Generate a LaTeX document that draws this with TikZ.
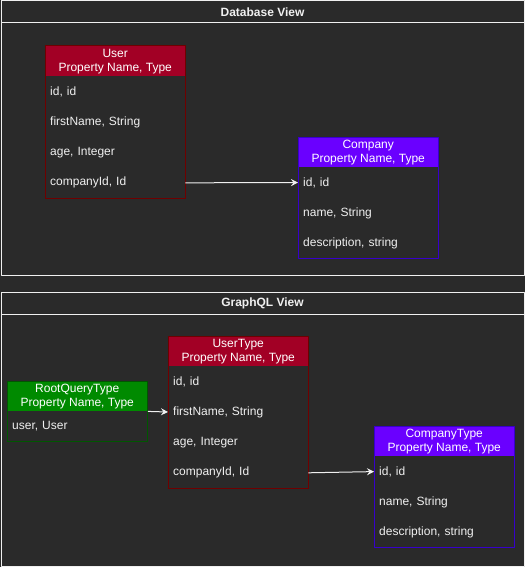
\documentclass[tikz,border=0pt]{standalone}
\usepackage{fontspec}
\setmainfont{Liberation Sans}
\usetikzlibrary{positioning,fit,arrows.meta}
\definecolor{bgdark}{HTML}{2A2A2A}
\definecolor{linelight}{HTML}{F0F0F0}
\definecolor{userred}{HTML}{A20025}
\definecolor{userredline}{HTML}{6F0000}
\definecolor{compviolet}{HTML}{6A00FF}
\definecolor{compvioletline}{HTML}{3700CC}
\definecolor{rootgreen}{HTML}{008A00}
\definecolor{rootgreenline}{HTML}{005700}
\begin{document}
\begin{tikzpicture}[x=1pt, y=-1pt, font=\fontsize{12}{14}\selectfont, line join=round,
	>={Stealth[length=7pt,width=7pt,inset=2.5pt]},
	panel/.style={draw=linelight, line width=1pt},
	paneltitle/.style={font=\fontsize{12}{14}\selectfont\bfseries, text=linelight},
	tablehead/.style={anchor=north west, minimum width=140pt, minimum height=30pt, inner sep=0pt, align=center, text=white},
	tablerow/.style={minimum width=140pt, text width=130pt, inner xsep=5pt, inner ysep=0pt, minimum height=30pt, align=left, text=linelight},
	tablebox/.style={inner sep=0pt, draw=#1, line width=1pt},
	link/.style={->, draw=linelight, line width=1pt}]
	\useasboundingbox (0,0) rectangle (525,567);
	\fill[bgdark] (0,0) rectangle (525,567);
	% database view
	\draw[panel] (1,1) rectangle (524,275);
	\draw[panel] (1,23) -- (524,23);
	\node[paneltitle] (db-title) at (262.5,12) {Database View};
	\node[tablehead, fill=userred] (user-head) at (45,46) {User\\Property Name, Type};
	\node[tablerow, below=0pt of user-head] (user-id) {id, id};
	\node[tablerow, below=0pt of user-id] (user-first) {firstName, String};
	\node[tablerow, below=0pt of user-first] (user-age) {age, Integer};
	\node[tablerow, below=0pt of user-age] (user-company) {companyId, Id};
	\node[tablebox=userredline, fit=(user-head)(user-company)] (user) {};
	\node[tablehead, fill=compviolet] (comp-head) at (298,137) {Company\\Property Name, Type};
	\node[tablerow, below=0pt of comp-head] (comp-id) {id, id};
	\node[tablerow, below=0pt of comp-id] (comp-name) {name, String};
	\node[tablerow, below=0pt of comp-name] (comp-desc) {description, string};
	\node[tablebox=compvioletline, fit=(comp-head)(comp-desc)] (comp) {};
	\draw[link] (user-company.east) -- (comp-id.west);
	% graphql view
	\draw[panel] (1,292) rectangle (524,566);
	\draw[panel] (1,314) -- (524,314);
	\node[paneltitle] (gql-title) at (262.5,303) {GraphQL View};
	\node[tablehead, fill=rootgreen] (root-head) at (7,381) {RootQueryType\\Property Name, Type};
	\node[tablerow, below=0pt of root-head] (root-user) {user, User};
	\node[tablebox=rootgreenline, fit=(root-head)(root-user)] (root) {};
	\node[tablehead, fill=userred] (ut-head) at (168,336) {UserType\\Property Name, Type};
	\node[tablerow, below=0pt of ut-head] (ut-id) {id, id};
	\node[tablerow, below=0pt of ut-id] (ut-first) {firstName, String};
	\node[tablerow, below=0pt of ut-first] (ut-age) {age, Integer};
	\node[tablerow, below=0pt of ut-age] (ut-company) {companyId, Id};
	\node[tablebox=userredline, fit=(ut-head)(ut-company)] (ut) {};
	\node[tablehead, fill=compviolet] (ct-head) at (374,426) {CompanyType\\Property Name, Type};
	\node[tablerow, below=0pt of ct-head] (ct-id) {id, id};
	\node[tablerow, below=0pt of ct-id] (ct-name) {name, String};
	\node[tablerow, below=0pt of ct-name] (ct-desc) {description, string};
	\node[tablebox=compvioletline, fit=(ct-head)(ct-desc)] (ct) {};
	\draw[link] (root.east) -- (ut-first.west);
	\draw[link] (ut-company.east) -- (ct-id.west);
\end{tikzpicture}
\end{document}
